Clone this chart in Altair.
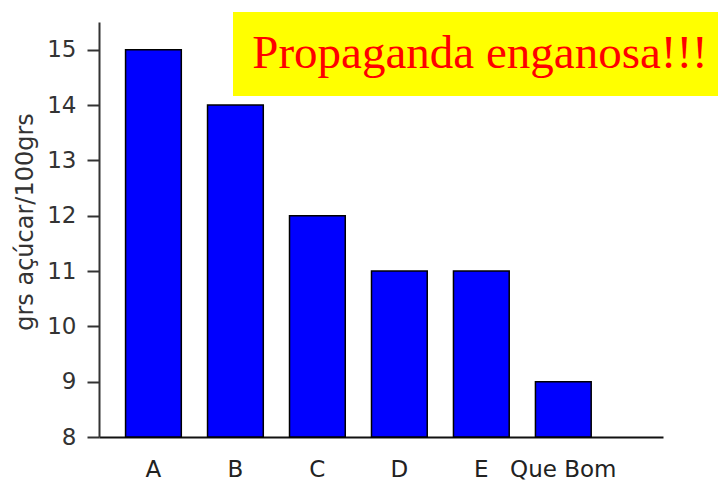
import altair as alt
import pandas as pd

# Sugar content per product
categories = ["A", "B", "C", "D", "E", "Que Bom"]
sugar = [15, 14, 12, 11, 11, 9]
y_ticks = [8, 9, 10, 11, 12, 13, 14, 15]

banner_text = "Propaganda enganosa!!!"

df = pd.DataFrame({"produto": categories, "acucar": sugar})

W, H = 564, 415

bars = alt.Chart(df).mark_bar(
    color="#0000FF", stroke="#000000", strokeWidth=1.5
).encode(
    x=alt.X(
        "produto:N",
        sort=categories,
        scale=alt.Scale(paddingInner=0.32, paddingOuter=0.6, align=0.27),
        axis=alt.Axis(
            title=None, labelAngle=0, ticks=False, grid=False,
            domainColor="#111111", domainWidth=2,
            labelFont="DejaVu Sans", labelFontSize=23, labelColor="#222222",
            labelPadding=21,
        ),
    ),
    y=alt.Y(
        "acucar:Q",
        scale=alt.Scale(domain=[8, 15.5], nice=False, zero=False),
        axis=alt.Axis(
            title="grs açúcar/100grs", values=y_ticks, grid=False,
            tickSize=12, tickWidth=2, tickColor="#333333",
            domainColor="#333333", domainWidth=2,
            labelFont="DejaVu Sans", labelFontSize=23, labelColor="#333333",
            labelPadding=11,
            titleFont="DejaVu Sans", titleFontSize=24, titleFontWeight="normal",
            titleColor="#333333", titlePadding=9, titleY=H / 2 - 8,
        ),
    ),
    y2=alt.datum(8),
)

note = pd.DataFrame({"texto": [banner_text]})

banner_box = alt.Chart(note).mark_rect(color="#FFFF00").encode(
    x=alt.value(134), x2=alt.value(619), y=alt.value(-10), y2=alt.value(74)
)

banner_label = alt.Chart(note).mark_text(
    font="Liberation Serif", fontSize=47, color="#FF0000",
    align="center", baseline="alphabetic",
).encode(
    text="texto:N", x=alt.value(381), y=alt.value(46)
)

chart = alt.layer(bars, banner_box, banner_label).properties(
    width=W, height=H,
    autosize=alt.AutoSizeParams(type="none"),
    padding={"left": 99, "top": 22, "right": 55, "bottom": 43},
    background="#FFFFFF",
).configure_view(stroke=None)

chart.save("out.html", embed_options={"renderer": "svg", "actions": False})
